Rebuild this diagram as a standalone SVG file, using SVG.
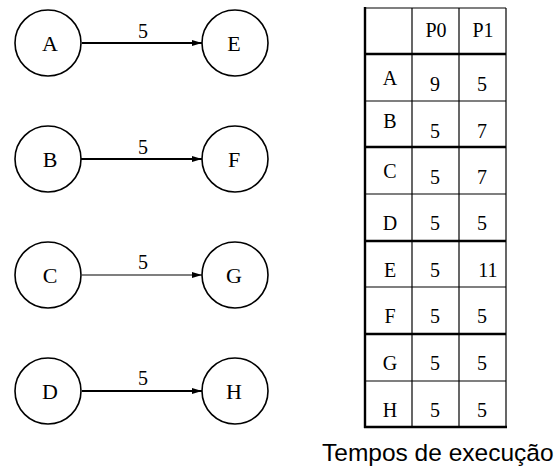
<svg xmlns="http://www.w3.org/2000/svg" width="556" height="468" viewBox="0 0 556 468">
<style>
.node circle{fill:#fff;stroke:#000;stroke-width:1.6}
.lbl{font-family:"Liberation Serif","Times New Roman",serif;font-size:22px;fill:#000;text-anchor:middle}
.elbl{font-family:"Liberation Serif","Times New Roman",serif;font-size:20px;fill:#000;text-anchor:middle}
.edge{stroke:#000;fill:none}
.tc{font-family:"Liberation Serif","Times New Roman",serif;font-size:20px;fill:#000;text-anchor:middle}
.thin{stroke:#000;stroke-width:1.2}
.thick{stroke:#000;stroke-width:2.4}
.cap{font-family:"Liberation Sans",Arial,sans-serif;font-size:24.5px;fill:#000}
</style>
<defs>
<marker id="ah" viewBox="0 0 10 6" refX="10" refY="3" markerWidth="10" markerHeight="6" markerUnits="userSpaceOnUse" orient="auto">
<path d="M0,0 L10,3 L0,6 Z" fill="#000"/>
</marker>
</defs>
<g id="connectors">
<line class="edge" x1="82" y1="43" x2="202" y2="43" stroke-width="2.2" marker-end="url(#ah)"/>
<text class="elbl" x="143" y="38">5</text>
<line class="edge" x1="78" y1="159" x2="202" y2="159" stroke-width="2.2" marker-end="url(#ah)"/>
<text class="elbl" x="143" y="154">5</text>
<line class="edge" x1="82" y1="275" x2="202" y2="275" stroke-width="1.2" marker-end="url(#ah)"/>
<text class="elbl" x="143" y="269">5</text>
<line class="edge" x1="82" y1="391" x2="202" y2="391" stroke-width="2.2" marker-end="url(#ah)"/>
<text class="elbl" x="143" y="385">5</text>
</g>
<g id="nA" class="node"><circle cx="48" cy="43" r="33"/><text class="lbl" x="50" y="51">A</text></g>
<g id="nB" class="node"><circle cx="48" cy="159" r="33"/><text class="lbl" x="50" y="167">B</text></g>
<g id="nC" class="node"><circle cx="48" cy="275" r="33"/><text class="lbl" x="50" y="283">C</text></g>
<g id="nD" class="node"><circle cx="48" cy="391" r="33"/><text class="lbl" x="50" y="399">D</text></g>
<g id="nE" class="node"><circle cx="235" cy="43" r="33"/><text class="lbl" x="234" y="51">E</text></g>
<g id="nF" class="node"><circle cx="235" cy="159" r="33"/><text class="lbl" x="234" y="167">F</text></g>
<g id="nG" class="node"><circle cx="235" cy="275" r="33"/><text class="lbl" x="234" y="283">G</text></g>
<g id="nH" class="node"><circle cx="235" cy="391" r="33"/><text class="lbl" x="234" y="399">H</text></g>
<g id="table">
<line class="thin" x1="365" y1="101" x2="506" y2="101"/>
<line class="thin" x1="365" y1="194" x2="506" y2="194"/>
<line class="thin" x1="365" y1="287" x2="506" y2="287"/>
<line class="thin" x1="365" y1="381" x2="506" y2="381"/>
<line class="thick" x1="365" y1="54" x2="506" y2="54"/>
<line class="thick" x1="365" y1="147" x2="506" y2="147"/>
<line class="thick" x1="365" y1="241" x2="506" y2="241"/>
<line class="thick" x1="365" y1="334" x2="506" y2="334"/>
<line class="thin" x1="412" y1="8" x2="412" y2="427"/>
<line class="thin" x1="459" y1="8" x2="459" y2="427"/>
<line class="thin" x1="506" y1="8" x2="506" y2="427"/>
<line class="thin" x1="365" y1="8" x2="506" y2="8"/>
<line class="thick" x1="365" y1="7" x2="365" y2="428"/>
<line class="thick" x1="364" y1="427" x2="507" y2="427"/>
<text class="tc" x="436" y="37">P0</text>
<text class="tc" x="483" y="37">P1</text>
<text class="tc" x="390" y="85">A</text><text class="tc" x="435" y="91">9</text><text class="tc" x="482" y="91">5</text>
<text class="tc" x="390" y="128">B</text><text class="tc" x="435" y="138">5</text><text class="tc" x="482" y="138">7</text>
<text class="tc" x="390" y="178">C</text><text class="tc" x="435" y="184">5</text><text class="tc" x="482" y="184">7</text>
<text class="tc" x="390" y="230">D</text><text class="tc" x="435" y="230">5</text><text class="tc" x="482" y="230">5</text>
<text class="tc" x="390" y="277">E</text><text class="tc" x="435" y="277">5</text><text class="tc" x="488" y="277">11</text>
<text class="tc" x="390" y="323">F</text><text class="tc" x="435" y="323">5</text><text class="tc" x="482" y="323">5</text>
<text class="tc" x="390" y="370">G</text><text class="tc" x="435" y="370">5</text><text class="tc" x="482" y="370">5</text>
<text class="tc" x="390" y="417">H</text><text class="tc" x="435" y="417">5</text><text class="tc" x="482" y="417">5</text>
</g>
<text class="cap" x="322" y="461">Tempos de execução</text>
</svg>
